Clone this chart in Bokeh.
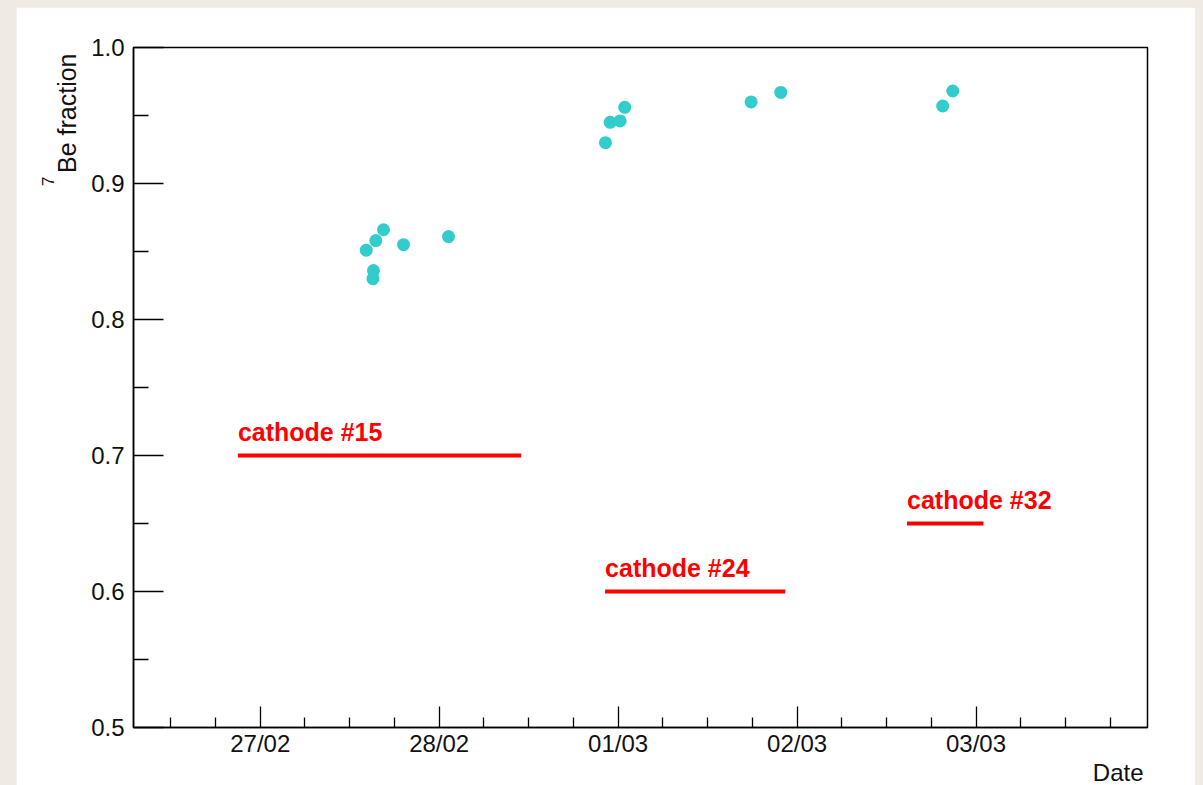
import pandas as pd
from bokeh.plotting import figure
from bokeh.models import (FixedTicker, DatetimeTickFormatter, LabelSet, Title,
                          ColumnDataSource, Range1d)
from bokeh.core.properties import value
from bokeh.layouts import column
from bokeh.embed import file_html
from bokeh.resources import INLINE

# Measurement times and the 7Be fraction measured at each of them
times = [
    "2017-02-27 14:13", "2017-02-27 15:30", "2017-02-27 15:11", "2017-02-27 15:07",
    "2017-02-27 16:32", "2017-02-27 19:13", "2017-02-28 01:15",
    "2017-02-28 22:18", "2017-02-28 22:56", "2017-03-01 00:16", "2017-03-01 00:53",
    "2017-03-01 17:50", "2017-03-01 21:49",
    "2017-03-02 19:32", "2017-03-02 20:53",
]
be7_fraction = [
    0.851, 0.858, 0.836, 0.830,
    0.866, 0.855, 0.861,
    0.930, 0.945, 0.946, 0.956,
    0.960, 0.967,
    0.957, 0.968,
]

# Periods during which each cathode was in use, drawn at a fixed level
cathode_names = ["cathode #15", "cathode #24", "cathode #32"]
cathode_start = ["2017-02-26 21:00", "2017-02-28 22:15", "2017-03-02 14:45"]
cathode_end = ["2017-02-28 11:00", "2017-03-01 22:25", "2017-03-03 01:00"]
cathode_level = [0.70, 0.60, 0.65]

# Axis ticks
day_ticks = ["2017-02-27", "2017-02-28", "2017-03-01", "2017-03-02", "2017-03-03"]
y_ticks = [0.5, 0.6, 0.7, 0.8, 0.9, 1.0]
y_minor_ticks = [0.55, 0.65, 0.75, 0.85, 0.95]
x_start, x_end = "2017-02-26 07:00", "2017-03-03 23:00"


def ms(t):
    return pd.Timestamp(t).value / 1e6


FONT = "Liberation Sans"
BG = "#efebe4"
INK = "#111111"

t_ms = [ms(t) for t in times]

p = figure(width=1179, height=778, output_backend="svg", toolbar_location=None,
           x_axis_type="datetime", x_range=Range1d(ms(x_start), ms(x_end)),
           y_range=Range1d(0.5, 1.0),
           min_border_left=117, min_border_right=48, min_border_top=40,
           min_border_bottom=58, background_fill_color="white",
           border_fill_color="white", outline_line_color="black",
           outline_line_width=1.5)
p.margin = (7, 8, 0, 16)
p.grid.visible = False

# Measured points
p.scatter(t_ms, be7_fraction, size=13, color="#33cccc", line_color=None)

# Cathode periods
src = ColumnDataSource(dict(
    x0=[ms(t) for t in cathode_start],
    x1=[ms(t) for t in cathode_end],
    y=cathode_level,
    name=cathode_names,
))
p.segment("x0", "y", "x1", "y", source=src, line_color="#ff0000", line_width=4)
p.add_layout(LabelSet(x="x0", y="y", text="name", source=src, y_offset=15,
                      text_font=value(FONT), text_font_style="bold",
                      text_font_size="25px", text_color="#ff0000",
                      text_baseline="alphabetic", text_align="left"))

# Axes
xa = p.xaxis[0]
xa.ticker = FixedTicker(ticks=[ms(d) for d in day_ticks],
                        minor_ticks=[ms(d) + h * 3600e3
                                     for d in ["2017-02-26"] + day_ticks
                                     for h in (6, 12, 18)])
fmt = "%d/%m"
xa.formatter = DatetimeTickFormatter(days=fmt, hours=fmt, months=fmt, minutes=fmt,
                                     hourmin=fmt, seconds=fmt, years=fmt)
xa.major_tick_in = 21
xa.major_tick_out = 0
xa.minor_tick_in = 10
xa.minor_tick_out = 0
xa.major_label_standoff = 2

ya = p.yaxis[0]
ya.ticker = FixedTicker(ticks=y_ticks, minor_ticks=y_minor_ticks)
ya.major_label_overrides = {v: f"{v:.1f}" for v in y_ticks}
ya.major_tick_in = 30
ya.major_tick_out = 0
ya.minor_tick_in = 15
ya.minor_tick_out = 0
ya.major_label_standoff = 9

for ax in (xa, ya):
    ax.axis_line_color = "black"
    ax.axis_line_width = 1.5
    ax.major_tick_line_width = 1.3
    ax.minor_tick_line_width = 1.3
    ax.major_tick_line_color = "black"
    ax.minor_tick_line_color = "black"
    ax.major_label_text_font = FONT
    ax.major_label_text_font_size = "24px"
    ax.major_label_text_color = INK

# Axis titles, placed at the far end of each axis
title_style = dict(text_font=FONT, text_font_style="normal", text_color=INK)
p.add_layout(Title(text="Date", align="right", offset=4, standoff=-4,
                   vertical_align="middle", text_font_size="24px",
                   **title_style), "below")
p.add_layout(Title(text="Be fraction", align="right", offset=6, standoff=15,
                   text_font_size="25px", **title_style), "left")
p.add_layout(Title(text="7", align="right", offset=129, standoff=-20,
                   text_font_size="17px", **title_style), "left")

page = column(p, styles={"background-color": BG})
open("out.html", "w").write(file_html(page, INLINE))
